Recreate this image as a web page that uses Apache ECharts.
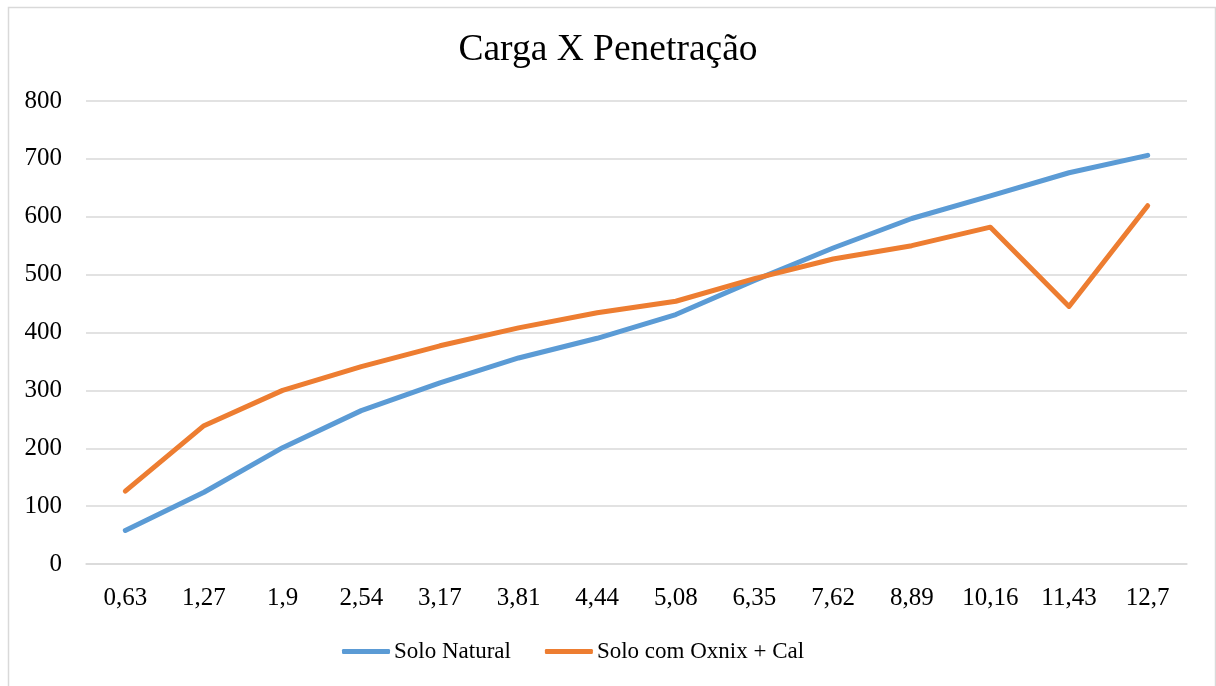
<!DOCTYPE html>
<html>
<head>
<meta charset="utf-8">
<script src="https://cdn.jsdelivr.net/npm/echarts@6/dist/echarts.min.js"></script>
<style>html,body{margin:0;padding:0;background:#fff}#c{width:1216px;height:686px}</style>
</head>
<body>
<div id="c"></div>
<script>
const categories = ['0,63','1,27','1,9','2,54','3,17','3,81','4,44','5,08','6,35','7,62','8,89','10,16','11,43','12,7'];
const soloNatural = [58, 124, 201, 265, 313, 356, 390, 431, 490, 546, 597, 636, 676, 706];
const soloOxnixCal = [126, 239, 300, 341, 377, 408, 434, 454, 493, 527, 550, 582, 445, 619];
const yTicks = {min: 0, max: 800, interval: 100};

const font = 'Liberation Serif, Times New Roman, serif';
const chart = echarts.init(document.getElementById('c'), null, {renderer: 'canvas'});
chart.setOption({
  backgroundColor: '#fff',
  animation: false,
  graphic: [{
    type: 'rect', left: 6, top: 5,
    shape: {width: 1207, height: 690},
    style: {fill: 'none', stroke: '#d9d9d9', lineWidth: 1.5}, silent: true
  }],
  title: {
    text: 'Carga X Penetração', left: 'center', top: 26,
    textStyle: {fontFamily: font, fontSize: 37.5, fontWeight: 'normal', color: '#000'}
  },
  legend: {
    bottom: 18, left: 337,
    itemWidth: 48, itemHeight: 5, itemGap: 34,
    icon: 'roundRect',
    textStyle: {fontFamily: font, fontSize: 23, color: '#000', padding: [0,0,0,-1]},
    data: ['Solo Natural', 'Solo com Oxnix + Cal']
  },
  grid: {left: 86, right: 29, top: 101, bottom: 122, containLabel: false},
  xAxis: {
    type: 'category', data: categories, boundaryGap: true,
    axisLine: {show: true, lineStyle: {color: '#d9d9d9', width: 1.5}},
    axisTick: {show: false},
    axisLabel: {fontFamily: font, fontSize: 25, color: '#000', margin: 22, interval: 0}
  },
  yAxis: {
    type: 'value', min: yTicks.min, max: yTicks.max, interval: yTicks.interval,
    axisLine: {show: false}, axisTick: {show: false},
    splitLine: {lineStyle: {color: '#d9d9d9', width: 1.5}},
    axisLabel: {fontFamily: font, fontSize: 25, color: '#000', margin: 24}
  },
  series: [
    {name: 'Solo Natural', type: 'line', data: soloNatural, symbol: 'none',
     lineStyle: {color: '#5B9BD5', width: 5, cap: 'round', join: 'round'}, itemStyle: {color: '#5B9BD5'}},
    {name: 'Solo com Oxnix + Cal', type: 'line', data: soloOxnixCal, symbol: 'none',
     lineStyle: {color: '#ED7D31', width: 5, cap: 'round', join: 'round'}, itemStyle: {color: '#ED7D31'}}
  ]
});
</script>
</body>
</html>
